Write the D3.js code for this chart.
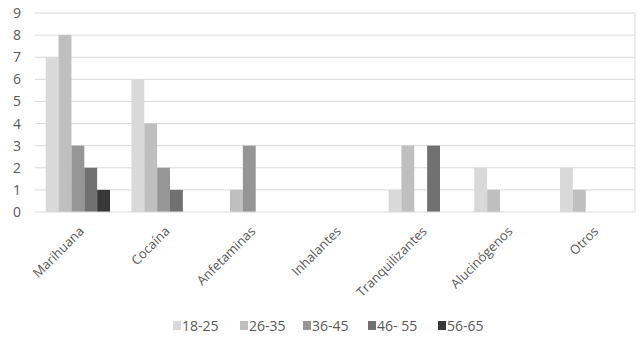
<!DOCTYPE html>
<html>
<head>
<meta charset="utf-8">
<script src="https://cdn.jsdelivr.net/npm/d3@7"></script>
<style>
  body { margin: 0; background: #fff; }
  svg { display: block; font-family: "Open Sans", sans-serif; }
</style>
</head>
<body>
<div id="chart"></div>
<script>
// Data
const categories = ["Marihuana", "Cocaína", "Anfetaminas", "Inhalantes", "Tranquilizantes", "Alucinógenos", "Otros"];
const series = ["18-25", "26-35", "36-45", "46- 55", "56-65"];
const values18_25 = [7, 6, 0, 0, 1, 2, 2];
const values26_35 = [8, 4, 1, 0, 3, 1, 1];
const values36_45 = [3, 2, 3, 0, 0, 0, 0];
const values46_55 = [2, 1, 0, 0, 3, 0, 0];
const values56_65 = [1, 0, 0, 0, 0, 0, 0];
const yTicks = [0, 1, 2, 3, 4, 5, 6, 7, 8, 9];

const seriesValues = [values18_25, values26_35, values36_45, values46_55, values56_65];
const colors = ["#d9d9d9", "#bfbfbf", "#969696", "#717171", "#383838"];

const width = 643, height = 339;
const margin = { top: 13, right: 8, bottom: 127, left: 35 };
const innerW = width - margin.left - margin.right;
const innerH = height - margin.top - margin.bottom;

const svg = d3.select("#chart").append("svg")
    .attr("width", width)
    .attr("height", height);

const g = svg.append("g")
    .attr("transform", `translate(${margin.left},${margin.top})`);

const x0 = d3.scaleBand()
    .domain(categories)
    .range([0, innerW]);

// groups take ~75% of the band, bars touch each other
const x1 = d3.scaleBand()
    .domain(series)
    .range([x0.bandwidth() * 0.125, x0.bandwidth() * 0.875]);

const y = d3.scaleLinear()
    .domain([0, 9])
    .range([innerH, 0]);

// gridlines
g.selectAll(".grid")
    .data(yTicks.filter(d => d > 0))
    .enter()
    .append("line")
    .attr("x1", 0)
    .attr("x2", innerW)
    .attr("y1", d => y(d))
    .attr("y2", d => y(d))
    .attr("stroke", "#d9d9d9")
    .attr("stroke-width", 1);

// right border of plot area
g.append("line")
    .attr("x1", innerW).attr("x2", innerW)
    .attr("y1", 0).attr("y2", innerH)
    .attr("stroke", "#d9d9d9");

// bars
const groups = g.selectAll(".cat")
    .data(categories)
    .enter()
    .append("g")
    .attr("transform", d => `translate(${x0(d)},0)`);

groups.selectAll("rect")
    .data((d, i) => series.map((s, j) => ({ s: s, v: seriesValues[j][i], j: j })))
    .enter()
    .append("rect")
    .filter(d => d.v > 0)
    .attr("x", d => x1(d.s))
    .attr("y", d => y(d.v))
    .attr("width", x1.bandwidth())
    .attr("height", d => innerH - y(d.v))
    .attr("fill", d => colors[d.j]);

// x axis line
g.append("line")
    .attr("x1", 0).attr("x2", innerW)
    .attr("y1", innerH).attr("y2", innerH)
    .attr("stroke", "#d9d9d9");

// y tick labels
g.selectAll(".ylab")
    .data(yTicks)
    .enter()
    .append("text")
    .attr("x", -14)
    .attr("y", d => y(d))
    .attr("dy", "0.36em")
    .attr("text-anchor", "end")
    .style("font-size", "14px")
    .style("fill", "#595959")
    .text(d => d);

// category labels, rotated
g.selectAll(".xlab")
    .data(categories)
    .enter()
    .append("text")
    .attr("transform", d => `translate(${x0(d) + x0.bandwidth() / 2 + 7},${innerH + 20}) rotate(-45)`)
    .attr("text-anchor", "end")
    .style("font-size", "13px")
    .style("fill", "#595959")
    .text(d => d);

// legend
const legendX = [173, 240, 303, 368, 438];
const legend = svg.append("g");
series.forEach((s, i) => {
    legend.append("rect")
        .attr("x", legendX[i])
        .attr("y", 321)
        .attr("width", 8)
        .attr("height", 9)
        .attr("fill", colors[i]);
    legend.append("text")
        .attr("x", legendX[i] + 9)
        .attr("y", 326)
        .attr("dy", "0.36em")
        .style("font-size", "14px")
        .style("fill", "#595959")
        .text(s);
});
</script>
</body>
</html>
